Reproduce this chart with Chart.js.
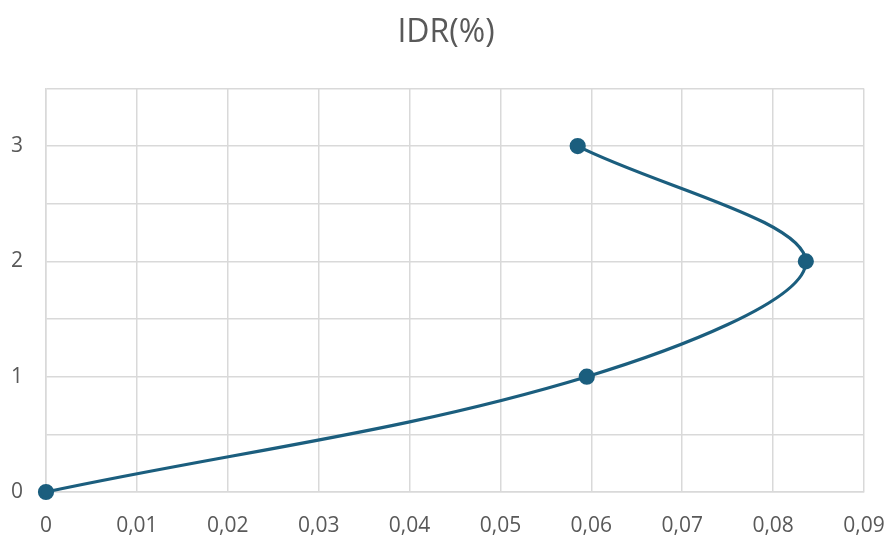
<!DOCTYPE html>
<html>
<head>
<meta charset="utf-8">
<script src="https://cdn.jsdelivr.net/npm/chart.js@4/dist/chart.umd.min.js"></script>
<style>
  html, body { margin: 0; padding: 0; background: #fff; }
  #wrap { width: 892px; height: 542px; }
</style>
</head>
<body>
<div id="wrap"><canvas id="c" width="892" height="542"></canvas></div>
<script>
// IDR (%) per storey
const idrValues = [0, 0.0595, 0.0836, 0.0585];
const storeys = [0, 1, 2, 3];
const xTicks = [0, 0.01, 0.02, 0.03, 0.04, 0.05, 0.06, 0.07, 0.08, 0.09];
const yTicks = [0, 1, 2, 3];

const lineColor = '#1b5e7e';
const gridColor = '#d9d9d9';
const textColor = '#595959';

const points = idrValues.map((v, i) => ({ x: v, y: storeys[i] }));

new Chart(document.getElementById('c'), {
  type: 'scatter',
  data: {
    datasets: [{
      label: 'IDR(%)',
      data: points,
      showLine: true,
      borderColor: lineColor,
      backgroundColor: lineColor,
      borderWidth: 3.2,
      tension: 0.35,
      pointRadius: 6.5,
      pointHoverRadius: 6.5,
      clip: false
    }]
  },
  options: {
    responsive: false,
    animation: false,
    layout: { padding: { left: 0, right: 0, top: 0, bottom: 0 } },
    plugins: {
      legend: { display: false },
      tooltip: { enabled: false },
      title: {
        display: true,
        text: 'IDR(%)',
        color: textColor,
        font: { family: 'Open Sans', size: 32, weight: 'normal' },
        padding: { top: 14, bottom: 36 }
      }
    },
    scales: {
      x: {
        type: 'linear',
        min: 0,
        max: 0.09,
        afterBuildTicks: (axis) => { axis.ticks = xTicks.map(v => ({ value: v })); },
        ticks: {
          color: textColor,
          font: { family: 'Open Sans', size: 21 },
          padding: 21,
          maxRotation: 0,
          callback: (v) => v === 0 ? '0' : v.toFixed(2).replace('.', ',')
        },
        afterFit: (axis) => {
          axis.height = 50;
          axis.paddingLeft = 0;
          axis.paddingRight = 28;
        },
        grid: { color: gridColor, lineWidth: 1.5, drawTicks: false },
        border: { color: gridColor, width: 1.5 }
      },
      y: {
        type: 'linear',
        min: 0,
        max: 3.5,
        ticks: {
          stepSize: 0.5,
          color: textColor,
          font: { family: 'Open Sans', size: 21 },
          padding: 23,
          callback: (v) => yTicks.includes(v) ? String(v) : ''
        },
        afterFit: (axis) => { axis.width = 46; },
        grid: { color: gridColor, lineWidth: 1.5, drawTicks: false },
        border: { color: gridColor, width: 1.5 }
      }
    }
  }
});
</script>
</body>
</html>
